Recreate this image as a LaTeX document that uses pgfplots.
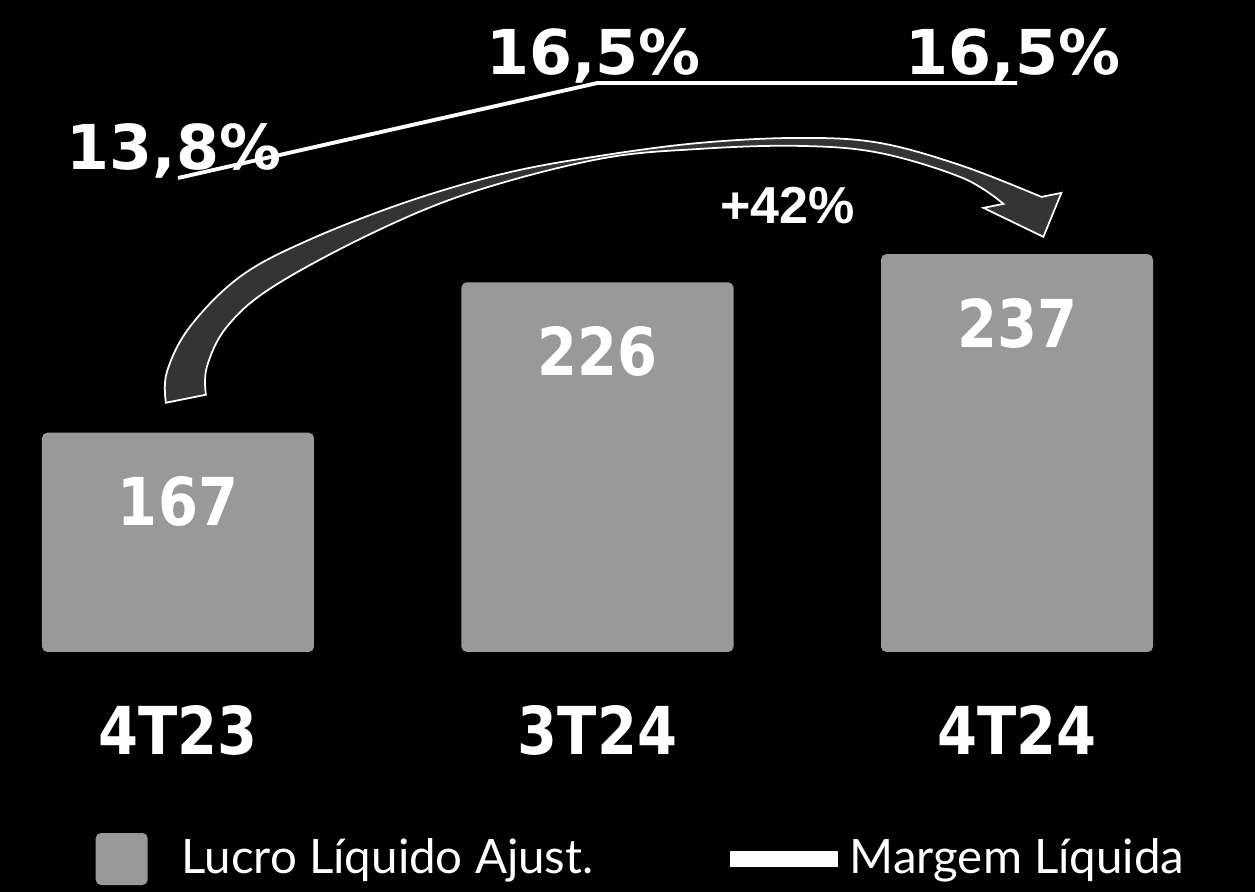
\documentclass[border=0pt]{standalone}
\usepackage{pgfplots}
\pgfplotsset{compat=1.18}
\usepackage{fontspec}
\setmainfont{Lato}
\newfontfamily\numfont[FakeStretch=0.87]{DejaVu Sans}
\newfontfamily\pctfont{DejaVu Sans}
\newfontfamily\arialfont{Liberation Sans}
\definecolor{bargray}{RGB}{153,153,153}
\definecolor{arrowgray}{RGB}{52,52,52}

\begin{document}
\begin{tikzpicture}
% picture frame and background, 1px = 0.01cm
\path[use as bounding box] (0,0) rectangle (12.55,8.92);
\fill[black] (0,0) rectangle (12.55,8.92);

% bars: Lucro Liquido Ajust.
\begin{axis}[
  at={(0cm,2.40cm)}, anchor=south west,
  width=12.55cm, height=6.52cm, scale only axis,
  xmin=-0.42431, xmax=2.56734, ymin=81, ymax=336.69,
  ybar, bar width=2.72cm,
  axis line style={draw=none}, tick style={draw=none},
  ytick=\empty,
  xtick={0,1,2}, xticklabels={4T23,3T24,4T24},
  xticklabel style={anchor=base, yshift=-0.88cm, text=white,
    font=\numfont\bfseries\fontsize{18.8}{20}\selectfont},
  /pgf/number format/assume math mode=true,
  nodes near coords,
  every node near coord/.append style={anchor=center, yshift=-0.69cm, text=white,
    font=\numfont\bfseries\fontsize{18.8}{20}\selectfont},
  legend style={draw=none, fill=none, inner sep=0pt, text=white,
    font=\fontsize{13.5}{16}\selectfont,
    at={(0.0757,-0.3175)}, anchor=west,
    nodes={inner sep=0pt},
    /tikz/every odd column/.append style={column sep=0.12cm},
    /tikz/every even column/.append style={column sep=1.36cm}},
  legend columns=2, legend cell align=left,
]
\addplot[fill=bargray, draw=none, rounded corners=1.5pt,
  legend image code/.code={
    \fill[bargray] (0cm,-0.26cm) rectangle (0.52cm,0.26cm);
    \path[draw=none, fill=none] (0.52cm,0cm) -- (0.74cm,0cm);}]
  coordinates {(0,167) (1,226) (2,237)};
\addlegendentry{Lucro Líquido Ajust.}
\addlegendimage{legend image code/.code={
    \fill[white] (0cm,-0.075cm) rectangle (1.07cm,0.075cm);}}
\addlegendentry{Margem Líquida}
\end{axis}

% line: Margem Liquida (%)
\begin{axis}[
  at={(0cm,2.40cm)}, anchor=south west,
  width=12.55cm, height=6.52cm, scale only axis,
  xmin=-0.42431, xmax=2.56734, ymin=0.328, ymax=18.859,
  hide axis,
  point meta=y,
  /pgf/number format/use comma,
  /pgf/number format/fixed,
  /pgf/number format/fixed zerofill,
  /pgf/number format/precision=1,
  /pgf/number format/assume math mode=true,
]
\addplot[white, line width=1.1pt, mark=none,
  nodes near coords={\pgfmathprintnumber{\pgfplotspointmeta}\%},
  every node near coord/.append style={anchor=base, yshift=0.08cm, xshift=-0.04cm,
    text=white, font=\pctfont\bfseries\fontsize{17.6}{20}\selectfont}]
  coordinates {(0,13.8) (1,16.5) (2,16.5)};
\end{axis}

% curved growth arrow and its label, in pixel coordinates
\begin{scope}[x=0.01cm, y=-0.01cm, shift={(0cm,8.92cm)}]
\draw[white, line width=0.5pt, fill=arrowgray, line join=miter]
  plot[smooth, tension=0.6] coordinates {(166,403) (167,372) (190,327) (240,277)
    (307,241) (407,202) (507,173) (600,156) (700,143) (800,138) (880,143)
    (963,166) (1042,197)}
  -- (1062,193) -- (1044,237) -- (984,208) -- (1004,204)
  -- plot[smooth, tension=0.6] coordinates {(1004,204) (963,178) (880,153)
    (800,146) (700,149) (600,159) (473,192) (373,233) (273,287) (227,327)
    (207,367) (206,395)}
  -- cycle;
\node[text=white, font=\arialfont\bfseries\fontsize{14.8}{16}\selectfont]
  at (788,206) {+42\%};
\end{scope}
\end{tikzpicture}
\end{document}
